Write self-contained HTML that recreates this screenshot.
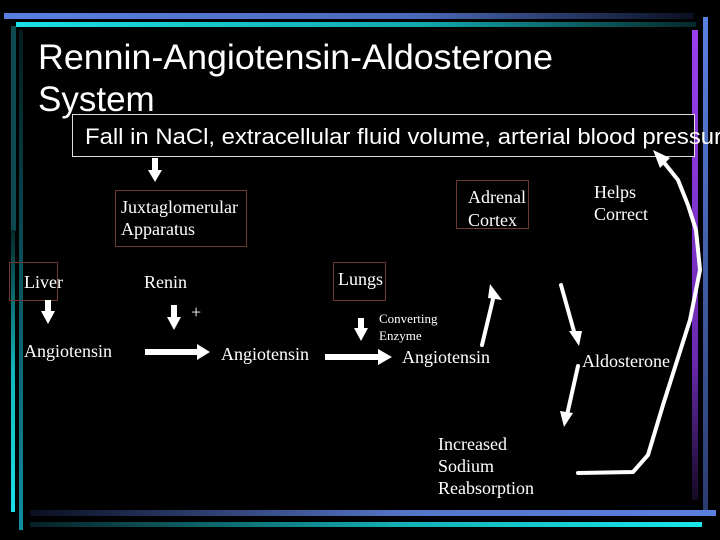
<!DOCTYPE html>
<html><head><style>
html,body{margin:0;padding:0;background:#000;}
body{width:720px;height:540px;overflow:hidden;position:relative;}
svg{position:absolute;left:0;top:0;}
.s{font-family:"Liberation Serif",serif;fill:#fff;}
</style></head><body>
<svg width="720" height="540" viewBox="0 0 720 540">
<defs>
<linearGradient id="gb" x1="0" x2="1"><stop offset="0" stop-color="#5a7fe0"/><stop offset="0.6" stop-color="#4a6ab8"/><stop offset="1" stop-color="#0a0f20"/></linearGradient>
<linearGradient id="gc" x1="0" x2="1"><stop offset="0" stop-color="#19e0e6"/><stop offset="0.6" stop-color="#12a8ae"/><stop offset="1" stop-color="#05282a"/></linearGradient>
<linearGradient id="bb" x1="0" x2="1"><stop offset="0" stop-color="#0a0f20"/><stop offset="0.55" stop-color="#5575c8"/><stop offset="1" stop-color="#5a80e0"/></linearGradient>
<linearGradient id="bc" x1="0" x2="1"><stop offset="0" stop-color="#052025"/><stop offset="0.55" stop-color="#13b0b5"/><stop offset="1" stop-color="#18e6ec"/></linearGradient>
<linearGradient id="lv" x1="0" y1="0" x2="0" y2="1"><stop offset="0" stop-color="#05282a"/><stop offset="0.5" stop-color="#12b5bb"/><stop offset="1" stop-color="#19e0e6"/></linearGradient>
<linearGradient id="lv2" x1="0" y1="0" x2="0" y2="1"><stop offset="0" stop-color="#041a1c"/><stop offset="1" stop-color="#0f8ea0"/></linearGradient>
<linearGradient id="rp" x1="0" y1="0" x2="0" y2="1"><stop offset="0" stop-color="#9a3ff0"/><stop offset="0.7" stop-color="#6a2ab0"/><stop offset="1" stop-color="#150a25"/></linearGradient>
<linearGradient id="rb" x1="0" y1="0" x2="0" y2="1"><stop offset="0" stop-color="#5a80e0"/><stop offset="1" stop-color="#2a3c70"/></linearGradient>
</defs>
<rect x="4" y="13" width="690" height="6" fill="url(#gb)"/>
<rect x="16" y="22" width="680" height="5" fill="url(#gc)"/>
<rect x="11" y="26" width="5" height="205" fill="#0c4a50"/>
<rect x="11" y="230" width="4" height="282" fill="url(#lv)"/>
<rect x="19" y="30" width="4" height="500" fill="url(#lv2)"/>
<rect x="692" y="30" width="6" height="470" fill="url(#rp)"/>
<rect x="703" y="17" width="5" height="495" fill="url(#rb)"/>
<rect x="30" y="510" width="686" height="6" fill="url(#bb)"/>
<rect x="30" y="522" width="672" height="5" fill="url(#bc)"/>

<text x="38" y="69" font-family="Liberation Sans,sans-serif" font-size="35" fill="#fff" textLength="515" lengthAdjust="spacingAndGlyphs">Rennin-Angiotensin-Aldosterone</text>
<text x="38" y="111" font-family="Liberation Sans,sans-serif" font-size="35" fill="#fff">System</text>
<rect x="72.5" y="114.5" width="622" height="42" fill="#000" stroke="#ddd" stroke-width="1"/>
<text x="85" y="144" font-family="Liberation Sans,sans-serif" font-size="22" fill="#fff" textLength="637" lengthAdjust="spacingAndGlyphs">Fall in NaCl, extracellular fluid volume, arterial blood pressur</text>

<g fill="none" stroke="#6a3a30" stroke-width="1">
<rect x="115.5" y="190.5" width="131" height="56"/>
<rect x="456.5" y="180.5" width="72" height="48"/>
<rect x="9.5" y="262.5" width="48" height="38"/>
<rect x="333.5" y="262.5" width="52" height="38"/>
</g>
<g class="s" font-size="18">
<text x="121" y="213">Juxtaglomerular</text>
<text x="121" y="235">Apparatus</text>
<text x="468" y="203">Adrenal</text>
<text x="468" y="226">Cortex</text>
<text x="594" y="198">Helps</text>
<text x="594" y="220">Correct</text>
<text x="24" y="288">Liver</text>
<text x="144" y="288">Renin</text>
<text x="338" y="285">Lungs</text>
<text x="191" y="318">+</text>
<text x="24" y="357">Angiotensin</text>
<text x="221" y="360">Angiotensin</text>
<text x="402" y="363">Angiotensin</text>
<text x="582" y="367">Aldosterone</text>
<text x="438" y="450">Increased</text>
<text x="438" y="472">Sodium</text>
<text x="438" y="494">Reabsorption</text>
</g>
<g class="s" font-size="13"><text x="379" y="323">Converting</text><text x="379" y="340">Enzyme</text></g>

<g fill="#fff">
<polygon points="152,158 158,158 158,170 162,170 155,182 148,170 152,170"/>
<polygon points="45,300 51,300 51,311 55,311 48,324 41,311 45,311"/>
<polygon points="171,305 177,305 177,317 181,317 174,330 167,317 171,317"/>
<polygon points="358,318 364,318 364,328 368,328 361,341 354,328 358,328"/>
<polygon points="145,349 197,349 197,344 210,352 197,360 197,355 145,355"/>
<polygon points="325,354 378,354 378,349 392,357 378,365 378,360 325,360"/>
</g>
<g stroke="#fff" stroke-width="4" fill="none" stroke-linecap="round">
<line x1="482" y1="345" x2="494" y2="295"/>
<line x1="561" y1="285" x2="575" y2="335"/>
<line x1="578" y1="366" x2="567" y2="415"/>
<path d="M578,473 L633,472 L648,455 L663,405 L690,320 L700,270 L696,230 L688,205 L678,180 L662,160"/>
</g>
<g fill="#fff">
<polygon points="490,284 502,300 488,298"/>
<polygon points="579,346 569,331 582,331"/>
<polygon points="564,427 560,411 573,413"/>
<polygon points="653,150 670,158 660,168"/>
</g>
</svg>
</body></html>
